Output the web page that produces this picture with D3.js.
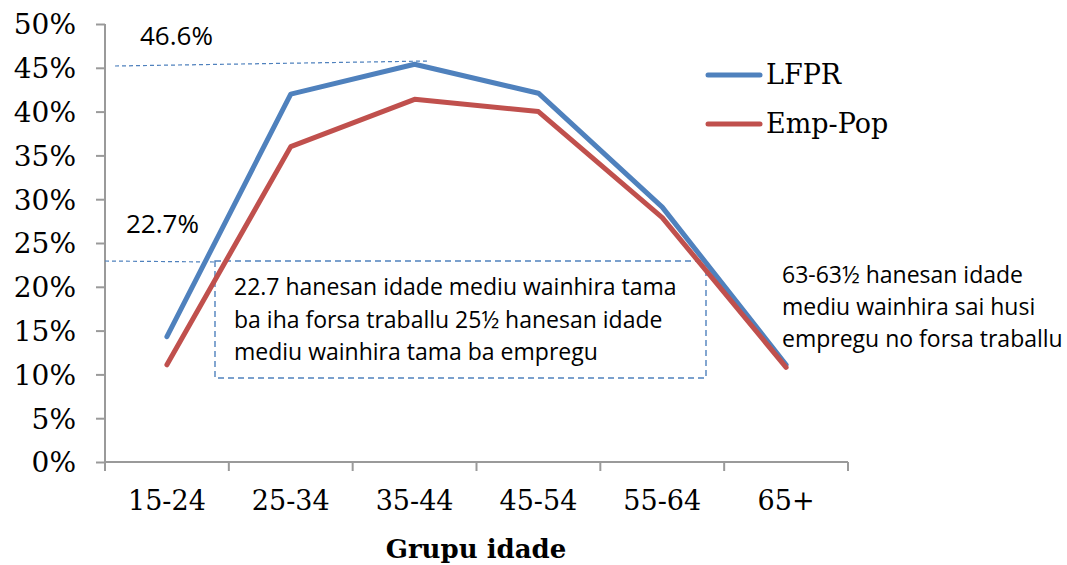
<!DOCTYPE html>
<html>
<head>
<meta charset="utf-8">
<script src="https://cdn.jsdelivr.net/npm/d3@7"></script>
<style>
  body { margin: 0; background: #fff; }
  svg { display: block; }
  .tick text { font-family: "DejaVu Serif", serif; }
  .note { font-family: "Open Sans", sans-serif; font-size: 23px; fill: #000; }
</style>
</head>
<body>
<svg id="chart" width="1067" height="565"></svg>
<script>
var groups = ['15-24', '25-34', '35-44', '45-54', '55-64', '65+'];
var lfpr   = [14.3, 42.0, 45.4, 42.1, 29.1, 11.1];
var empPop = [11.1, 36.0, 41.4, 40.0, 27.9, 10.8];
var yTicks = [0, 5, 10, 15, 20, 25, 30, 35, 40, 45, 50];
var seriesNames = ['LFPR', 'Emp-Pop'];
var seriesColors = ['#4F81BD', '#C0504D'];
var boxLines = ['22.7 hanesan idade mediu wainhira tama',
                'ba iha forsa traballu 25½ hanesan idade',
                'mediu wainhira tama ba empregu'];
var sideLines = ['63-63½ hanesan idade',
                 'mediu wainhira sai husi',
                 'empregu no forsa traballu'];

var svg = d3.select('#chart');

var x = d3.scaleBand().domain(groups).range([105, 848]).padding(0);
var y = d3.scaleLinear().domain([0, 50]).range([462, 24]);

// y axis
var yAxis = svg.append('g')
  .attr('transform', 'translate(105,0)')
  .call(d3.axisLeft(y).tickValues(yTicks).tickSize(9).tickPadding(20)
    .tickFormat(function(d){ return d + '%'; }));
yAxis.selectAll('text').style('font-size', '28px').attr('dy', '0.35em');

// x axis: labels in the middle of each band, ticks on the boundaries
var xAxis = svg.append('g')
  .attr('transform', 'translate(0,462)')
  .call(d3.axisBottom(x).tickSize(0).tickPadding(29));
xAxis.selectAll('text').style('font-size', '27px');
xAxis.selectAll('.boundary')
  .data(d3.range(groups.length + 1))
  .enter().append('line')
    .attr('class', 'boundary')
    .attr('x1', function(i){ return 105 + i * x.bandwidth(); })
    .attr('x2', function(i){ return 105 + i * x.bandwidth(); })
    .attr('y1', 0).attr('y2', 9);

svg.selectAll('.domain, .tick line, .boundary')
  .attr('stroke', '#9a9a9a').attr('stroke-width', 2);
svg.selectAll('.domain').attr('d', null);
yAxis.append('line').attr('x1', 0).attr('x2', 0).attr('y1', y(50)).attr('y2', y(0))
  .attr('stroke', '#9a9a9a').attr('stroke-width', 2);
xAxis.append('line').attr('x1', 105).attr('x2', 848).attr('y1', 0).attr('y2', 0)
  .attr('stroke', '#9a9a9a').attr('stroke-width', 2);

svg.append('text')
  .attr('x', 476).attr('y', 558)
  .attr('text-anchor', 'middle')
  .style('font-family', '"DejaVu Serif", serif')
  .style('font-weight', 'bold')
  .style('font-size', '26px')
  .text('Grupu idade');

// annotation guides
var dash = '4,3';
svg.append('line')
  .attr('x1', 115).attr('y1', 66).attr('x2', 430).attr('y2', 61)
  .attr('stroke', '#4F81BD').attr('stroke-width', 1.2).attr('stroke-dasharray', dash);
svg.append('line')
  .attr('x1', 105).attr('y1', 261).attr('x2', 215).attr('y2', 262)
  .attr('stroke', '#4F81BD').attr('stroke-width', 1.2).attr('stroke-dasharray', dash);
svg.append('rect')
  .attr('x', 215).attr('y', 261).attr('width', 491).attr('height', 117)
  .attr('fill', 'none')
  .attr('stroke', '#4F81BD').attr('stroke-width', 1.4).attr('stroke-dasharray', '6,4');

svg.append('text').attr('x', 140).attr('y', 45)
  .style('font-family', '"Open Sans", sans-serif').style('font-size', '26px')
  .text('46.6%');
svg.append('text').attr('x', 126).attr('y', 233)
  .style('font-family', '"Open Sans", sans-serif').style('font-size', '26px')
  .text('22.7%');

// lines
var line = d3.line()
  .x(function(d, i){ return x(groups[i]) + x.bandwidth() / 2; })
  .y(function(d){ return y(d); });

[lfpr, empPop].forEach(function(vals, k){
  svg.append('path')
    .datum(vals)
    .attr('d', line)
    .attr('fill', 'none')
    .attr('stroke', seriesColors[k])
    .attr('stroke-width', 5)
    .attr('stroke-linejoin', 'round')
    .attr('stroke-linecap', 'round');
});

// box text
svg.selectAll('.boxline').data(boxLines).enter().append('text')
  .attr('class', 'note')
  .attr('x', 234)
  .attr('y', function(d, i){ return 295 + i * 32.5; })
  .text(function(d){ return d; });

svg.selectAll('.sideline').data(sideLines).enter().append('text')
  .attr('class', 'note')
  .attr('x', 782)
  .attr('y', function(d, i){ return 283 + i * 32; })
  .text(function(d){ return d; });

// legend
var legend = svg.append('g').selectAll('g').data(seriesNames).enter().append('g')
  .attr('transform', function(d, i){ return 'translate(708,' + (75 + i * 49) + ')'; });
legend.append('line')
  .attr('x1', 0).attr('x2', 52).attr('y1', 0).attr('y2', 0)
  .attr('stroke', function(d, i){ return seriesColors[i]; })
  .attr('stroke-width', 5).attr('stroke-linecap', 'round');
legend.append('text')
  .attr('x', 58).attr('y', 0).attr('dy', '0.35em')
  .style('font-family', '"DejaVu Serif", serif').style('font-size', '27px')
  .text(function(d){ return d; });
</script>
</body>
</html>
